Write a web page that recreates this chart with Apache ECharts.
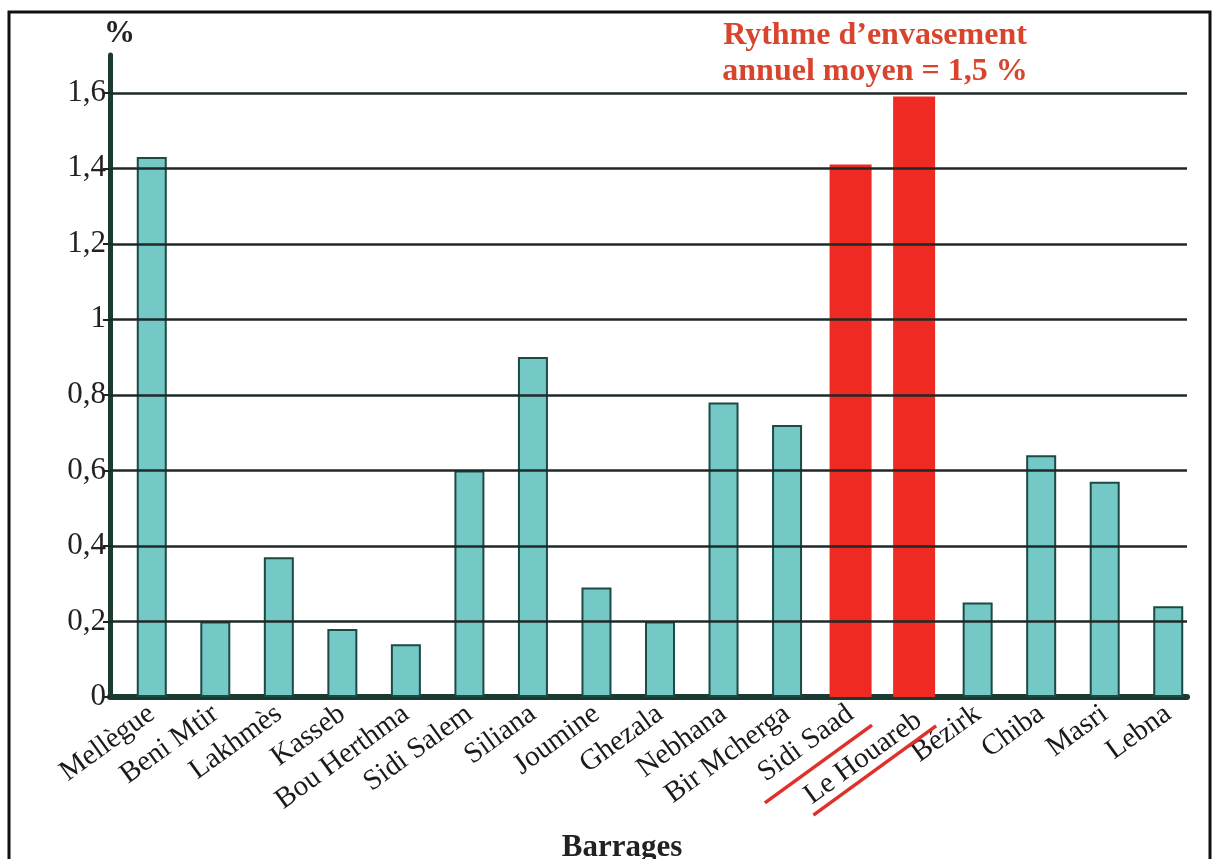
<!DOCTYPE html>
<html>
<head>
<meta charset="utf-8">
<script src="https://cdn.jsdelivr.net/npm/echarts@6/dist/echarts.min.js"></script>
<style>
html,body{margin:0;padding:0;background:#fff;}
#chart{width:1215px;height:859px;}
</style>
</head>
<body>
<div id="chart"></div>
<script>
const categories = ['Mellègue','Beni Mtir','Lakhmès','Kasseb','Bou Herthma','Sidi Salem','Siliana','Joumine','Ghezala','Nebhana','Bir Mcherga','Sidi Saad','Le Houareb','Bézirk','Chiba','Masri','Lebna'];
const values = [1.43,0.20,0.37,0.18,0.14,0.60,0.90,0.29,0.20,0.78,0.72,1.41,1.59,0.25,0.64,0.57,0.24];
const highlighted = ['Sidi Saad','Le Houareb'];
const yTicks = [0,0.2,0.4,0.6,0.8,1,1.2,1.4,1.6];
const yTickLabels = ['0','0,2','0,4','0,6','0,8','1','1,2','1,4','1,6'];
const yMax = 1.7;
const yUnit = '%';
const titleText = 'Rythme d’envasement\nannuel moyen = 1,5 %';
const xName = 'Barrages';

const tealData = categories.map((c,i)=> highlighted.includes(c) ? null : values[i]);
const redData = categories.map((c,i)=> highlighted.includes(c) ? values[i] : null);

const serif = '"Liberation Serif","DejaVu Serif",serif';
const xFont = 29, xRot = 36, xMargin = 14;
const loweredLabel = 'Le Houareb', lowerBy = 8;
const underlineStyle = {'Sidi Saad':{off:24, extra:22}, 'Le Houareb':{off:25, extra:14}};
const chart = echarts.init(document.getElementById('chart'));

const option = {
  backgroundColor:'#fff',
  animation:false,
  title:[
    {text:yUnit,left:99,top:13,textStyle:{fontFamily:serif,fontSize:31,fontWeight:'bold',color:'#222'}},
    {text:titleText,left:870,top:13,textAlign:'center',textStyle:{fontFamily:serif,fontSize:32,fontWeight:'bold',color:'#d8442c',lineHeight:36,align:'center'}},
    {text:xName,left:617,top:827,textAlign:'center',textStyle:{fontFamily:serif,fontSize:31,fontWeight:'bold',color:'#222'}}
  ],
  grid:[
    {left:120,width:1080,top:55,height:642,containLabel:false},
    {left:110,width:1077,top:55,height:642,containLabel:false}
  ],
  xAxis:[
    {type:'category',gridIndex:0,data:categories,
     axisLine:{show:false},axisTick:{show:false},
     axisLabel:{interval:0,rotate:xRot,margin:xMargin,fontFamily:serif,fontSize:xFont,color:'#1a1a1a',
       formatter:function(v){return v===loweredLabel ? '{low|'+v+'}' : v;},
       rich:{low:{fontFamily:serif,fontSize:xFont,color:'#1a1a1a',padding:[2*lowerBy,0,0,0]}}}},
    {type:'value',gridIndex:1,min:0,max:1,
     axisLine:{show:true,onZero:false,lineStyle:{color:'#1b3a32',width:6}},
     axisTick:{show:false},axisLabel:{show:false},splitLine:{show:false}},
    {type:'category',gridIndex:0,data:categories,show:false}
  ],
  yAxis:[
    {type:'value',gridIndex:0,min:0,max:yMax,show:false,splitLine:{show:false}},
    {type:'value',gridIndex:1,min:0,max:yMax,interval:0.2,
     axisLine:{show:true,lineStyle:{color:'#1b3a32',width:5}},
     axisTick:{show:true,length:7,customValues:yTicks,lineStyle:{color:'#222',width:2}},
     axisLabel:{margin:4,fontFamily:serif,fontSize:31,color:'#222',customValues:yTicks,
       formatter:function(v){const k=yTicks.findIndex(t=>Math.abs(t-v)<1e-6);return k<0?'':yTickLabels[k];}},
     splitLine:{show:false}}
  ],
  series:[
    {type:'line',xAxisIndex:1,yAxisIndex:1,data:[[0,0],[1,0]],symbol:'none',lineStyle:{width:0},z:1,silent:true,
     markLine:{silent:true,symbol:'none',label:{show:false},
       lineStyle:{color:'#1f2a28',width:2.5,type:'solid'},
       data:yTicks.filter(v=>v>0).map(v=>({yAxis:v}))}},
    {type:'bar',xAxisIndex:0,yAxisIndex:0,data:tealData,barWidth:30,z:3,
     itemStyle:{color:'#74c8c6',borderColor:'#1d4a44',borderWidth:2}},
    {type:'bar',xAxisIndex:2,yAxisIndex:0,data:redData,barWidth:42,z:3,
     itemStyle:{color:'#ee2a22'}}
  ],
  graphic:[
    {type:'rect',shape:{x:9,y:12,width:1201,height:870},style:{fill:'none',stroke:'#111',lineWidth:3},z:0,silent:true}
  ]
};
chart.setOption(option);

// red underline under highlighted labels, derived from the label geometry
const ctx = document.createElement('canvas').getContext('2d');
ctx.font = xFont + 'px "Liberation Serif"';
const axisY = chart.convertToPixel({yAxisIndex:0},0);
const a = xRot*Math.PI/180;
const u = [Math.cos(a), -Math.sin(a)];   // text direction
const n = [Math.sin(a), Math.cos(a)];    // below the baseline
const lines = highlighted.map(c=>{
  const cx = chart.convertToPixel({xAxisIndex:0},c);
  const w = ctx.measureText(c).width;
  const s = underlineStyle[c];
  const ax = cx, ay = axisY + xMargin;   // label anchor
  const ex = ax + n[0]*s.off + u[0]*9, ey = ay + n[1]*s.off + u[1]*9;
  const len = w + s.extra;
  return {type:'line',shape:{x1:ex-u[0]*len,y1:ey-u[1]*len,x2:ex,y2:ey},
    style:{stroke:'#e0302a',lineWidth:3.5},z:10,silent:true};
});
chart.setOption({graphic:option.graphic.concat(lines)});
</script>
</body>
</html>
